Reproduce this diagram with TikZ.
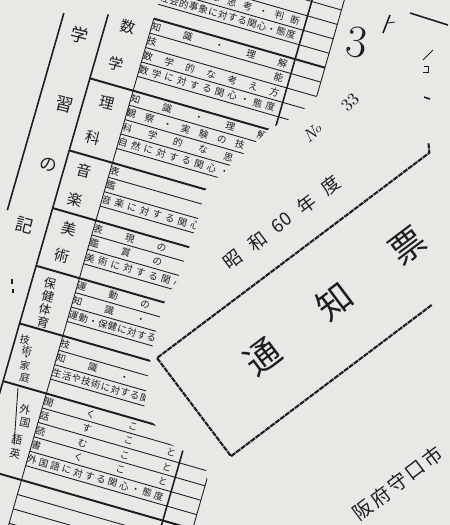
\documentclass[tikz,border=0pt]{standalone}
\usepackage{fontspec}
\newfontfamily\jpfont{Noto Sans CJK JP}
\usepackage{tikz}
\usetikzlibrary{calc}

\definecolor{paper}{RGB}{232,232,229}
\definecolor{ink}{RGB}{30,30,30}

\tikzset{
  rowline/.style={ink,line width=0.5pt},
  blockline/.style={ink,line width=1.1pt},
  colline/.style={ink,line width=0.9pt},
  boxline/.style={ink,line width=1.2pt,dash pattern=on 3pt off 0.5pt},
  rowtext/.style={font={\jpfont\fontsize{5.4}{5.4}\selectfont},text=ink,inner sep=0pt,rotate=-16},
  subjtext/.style={font={\jpfont\fontsize{8.5}{8.5}\selectfont},text=ink,inner sep=0pt,rotate=-14},
  smalltext/.style={font={\jpfont\fontsize{6.2}{6.2}\selectfont},text=ink,inner sep=0pt,rotate=-12},
  titletext/.style={font={\jpfont\fontsize{10}{10}\selectfont},text=ink,inner sep=0pt,rotate=-14}
}

% spread the characters of one row over the item column
\newcommand{\spreadchars}[1]{\foreach \c [count=\i] in {#1}{\ifnum\i>1 \hfill\fi\c}}
\newcommand{\itemrow}[3]{\node[rowtext] (#1) at (223.5,#2) {\makebox[2.82cm]{\spreadchars{#3}}};}

\begin{document}
\begin{tikzpicture}[x=0.02cm,y=-0.02cm]
\fill[paper] (0,0) rectangle (450,525);
\useasboundingbox (0,0) rectangle (450,525);
\clip (0,0) rectangle (450,525);

% table page, partly hidden under the cover
\begin{scope}
\clip (-5,-5) -- (362,-5) -- (342,60) -- (318,95) -- (298,115) -- (267,130) -- (250,148)
  -- (227,168) -- (205,190) -- (199,215) -- (190,245) -- (177,280) -- (163,305) -- (153,343)
  -- (148,375) -- (144,405) -- (150,420) -- (160,430) -- (168,443) -- (205,462) -- (214,530)
  -- (-5,530) -- cycle;
\begin{scope}[rotate=-16]
% rows
\foreach \b in {-114.5,-99.5,...,530} \draw[rowline] (153,\b) -- (331,\b);
\draw[blockline] (153,-24.5) -- (331,-24.5);
\foreach \b in {50.5,125.5,185.5,245.5,305.5,365.5,455.5} \draw[blockline] (108,\b) -- (331,\b);
% columns
\draw[colline] (65,-5) -- (65,200);
\draw[colline] (108,-16) -- (108,560);
\draw[rowline] (153,-24.5) -- (153,560);
\draw[colline] (300,-130) -- (300,560);
\draw[rowline] (331,-130) -- (331,560);

% social studies (cut off at the top)
\itemrow{so3}{-62}{社,会,的,な,思,考,・,判,断}
\itemrow{so4}{-47}{社,会,的,事,象,に,対,す,る,関,心,・,態,度}
% mathematics
\itemrow{ma1}{-17}{知,識,・,理,解}
\itemrow{ma2}{-2}{技,能}
\itemrow{ma3}{13}{数,学,的,な,考,え,方}
\itemrow{ma4}{28}{数,学,に,対,す,る,関,心,・,態,度}
% science
\itemrow{sc1}{58}{知,識,・,理,解}
\itemrow{sc2}{73}{観,察,・,実,験,の,技,能}
\itemrow{sc3}{88}{科,学,的,な,思,考}
\itemrow{sc4}{103}{自,然,に,対,す,る,関,心,・,態,度}
% music
\itemrow{mu1}{133}{表,現}
\itemrow{mu2}{148}{鑑,賞}
\itemrow{mu3}{163}{音,楽,に,対,す,る,関,心,・,態,度}
% art
\itemrow{ar1}{193}{表,現,の,能,力}
\itemrow{ar2}{208}{鑑,賞,の,能,力}
\itemrow{ar3}{223}{美,術,に,対,す,る,関,心,・,態,度}
% physical education
\itemrow{pe1}{253}{運,動,の,技,能}
\itemrow{pe2}{268}{知,識,・,理,解}
\itemrow{pe3}{283}{運,動,・,保,健,に,対,す,る,関,心,・,態,度}
% technology and home economics
\itemrow{te1}{313}{技,能}
\itemrow{te2}{328}{知,識,・,理,解}
\itemrow{te3}{343}{生,活,や,技,術,に,対,す,る,関,心,・,態,度}
% foreign language
\itemrow{fl1}{373}{聞,く,こ,と}
\itemrow{fl2}{388}{話,す,こ,と}
\itemrow{fl3}{403}{読,む,こ,と}
\itemrow{fl4}{418}{書,く,こ,と}
\itemrow{fl5}{433}{外,国,語,に,対,す,る,関,心,・,態,度}
\end{scope}

% column headings
\node[titletext] (ga) at (80,35) {学};
\node[titletext] (shu) at (65,105) {習};
\node[titletext] (no) at (48,165) {の};
\node[titletext] (ki) at (25,225) {記};
\fill[ink] (11,279) rectangle (13,284);
\fill[ink] (12,289) rectangle (14,293);

\foreach \t/\x/\y [count=\i] in {数/128/27,学/116/64,理/107/103,科/93/138,音/84/171,楽/75/200,美/69/229,術/62/256}
  \node[subjtext] (subj\i) at (\x,\y) {\t};
\foreach \t/\x/\y [count=\i] in {保/50/283,健/48/296,体/45/309,育/43/322}
  \node[subjtext,font={\jpfont\fontsize{7}{7}\selectfont}] (pe\i) at (\x,\y) {\t};
\foreach \t/\x/\y [count=\i] in {技/25/340,術/27/351,・/26/358,家/25/366,庭/25/378}
  \node[smalltext,font={\jpfont\fontsize{5.8}{5.8}\selectfont}] (te\i) at (\x,\y) {\t};
\foreach \t/\x/\y [count=\i] in {外/25/410,国/25/423,語/17/440,英/15/454}
  \node[smalltext] (fl\i) at (\x,\y) {\t};
\draw[rowline] (18,388) -- (14,445);
\end{scope}

% cover
\begin{scope}[shift={(157,358)},rotate=37]
\draw[boxline] (346,-8) -- (341,0) -- (0,0) -- (0,123) -- (252,123);
\foreach \t/\x [count=\i] in {昭/120,和/150.6,60/181,年/211.8,度/242.6}
  \node[font={\jpfont\fontsize{10.5}{10.5}\selectfont},text=ink,rotate=37] (year\i) at (\x,-33) {\t};
\node[font={\fontsize{10}{10}\selectfont\itshape},text=ink,rotate=37] (nr) at (260,-86) {N\kern-.05em\raisebox{.35ex}{\scriptsize o}};
\node[font={\fontsize{10}{10}\selectfont},text=ink,rotate=45] (nrval) at (308,-88) {33};
\foreach \t/\x [count=\i] in {通/85,知/176,票/268}
  \node[font={\jpfont\fontsize{20}{20}\selectfont},text=ink,rotate=37] (title\i) at (\x,62) {\t};
\foreach \t/\x [count=\i] in {阪/73,府/95,守/117,口/139,市/161}
  \node[font={\jpfont\fontsize{11}{11}\selectfont},text=ink,rotate=37] (city\i) at (\x,245) {\t};
\end{scope}

% class number and marks at the top right
\node[font={\fontsize{26}{26}\selectfont},text=ink,rotate=-8] (klass) at (357,42) {3};
\draw[colline] (410,13) -- (448,25);
\draw[colline] (390,15) -- (383,33);
\draw[rowline] (388,23) -- (395,22);
\draw[rowline] (433,50) -- (423,60);
\draw[rowline] (424,66) -- (428,66) -- (428,72) -- (423,72);
\draw[colline] (424,97) -- (430,99);
\end{tikzpicture}
\end{document}
